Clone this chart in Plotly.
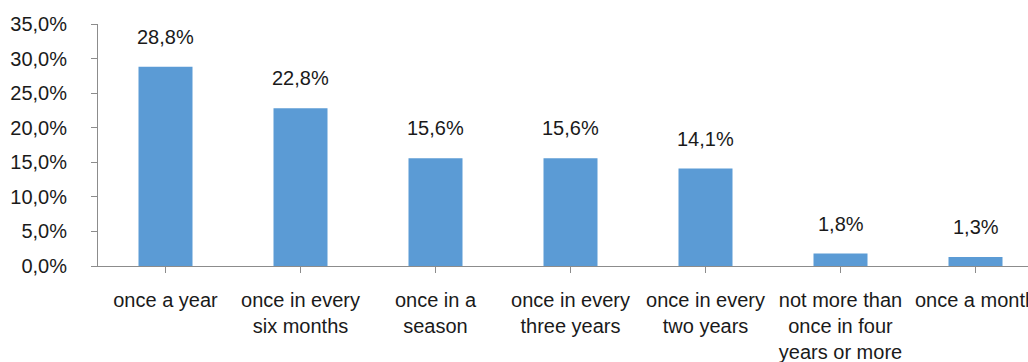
import plotly.graph_objects as go

categories = [
    "once a year",
    "once in every<br>six months",
    "once in a<br>season",
    "once in every<br>three years",
    "once in every<br>two years",
    "not more than<br>once in four<br>years or more",
    "once a month",
]
shares = [28.8, 22.8, 15.6, 15.6, 14.1, 1.8, 1.3]
y_ticks = [0, 5, 10, 15, 20, 25, 30, 35]
y_tick_labels = [f"{v:.1f}%".replace(".", ",") for v in y_ticks]

FONT = "Liberation Sans, Arial, sans-serif"
AXIS_COLOR = "#8c8c8c"

fig = go.Figure(
    go.Bar(
        x=list(range(len(categories))),
        y=shares,
        width=0.4,
        marker=dict(color="#5b9bd5", line=dict(width=0)),
        hoverinfo="skip",
    )
)

for i, v in enumerate(shares):
    fig.add_annotation(
        x=i, y=v, text=f"{v:.1f}%".replace(".", ","),
        showarrow=False, yanchor="bottom", yshift=17,
        font=dict(family=FONT, size=20, color="#1a1a1a"),
    )

fig.update_layout(
    width=1028,
    height=362,
    margin=dict(l=98, r=0, t=24, b=96, autoexpand=False),
    paper_bgcolor="white",
    plot_bgcolor="white",
    showlegend=False,
    font=dict(family=FONT, size=20, color="#1a1a1a"),
)

fig.update_xaxes(
    tickmode="array",
    tickvals=list(range(len(categories))),
    ticktext=categories,
    range=[-0.5, -0.5 + 930 / 135],
    showline=True,
    linecolor=AXIS_COLOR,
    linewidth=1,
    ticks="outside",
    tickson="boundaries",
    ticklen=6,
    tickcolor=AXIS_COLOR,
    showgrid=False,
    zeroline=False,
    tickangle=0,
    ticklabelstandoff=10,
    ticklabeloverflow="allow",
    automargin=False,
    fixedrange=True,
)

fig.update_yaxes(
    range=[0, 35],
    tickmode="array",
    tickvals=y_ticks,
    ticktext=y_tick_labels,
    showline=True,
    linecolor=AXIS_COLOR,
    linewidth=1,
    ticks="outside",
    ticklen=6,
    tickcolor=AXIS_COLOR,
    showgrid=False,
    zeroline=False,
    ticklabelstandoff=20,
    automargin=False,
    fixedrange=True,
)

fig.write_html("out.html")
